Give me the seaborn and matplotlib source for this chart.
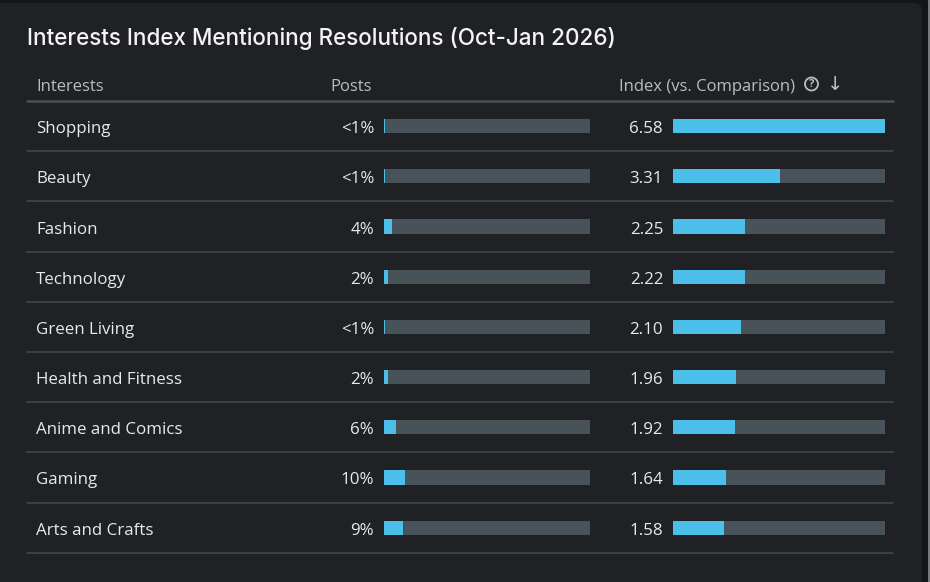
import matplotlib
matplotlib.use('Agg')
import matplotlib.pyplot as plt
from matplotlib.patches import FancyBboxPatch, Circle
import pandas as pd
import seaborn as sns

# ============================================================
# Data
# ============================================================
interests = ['Shopping', 'Beauty', 'Fashion', 'Technology', 'Green Living',
             'Health and Fitness', 'Anime and Comics', 'Gaming', 'Arts and Crafts']
posts_pct = [0.5, 0.5, 4, 2, 0.5, 2, 6, 10, 9]
posts_labels = ['<1%', '<1%', '4%', '2%', '<1%', '2%', '6%', '10%', '9%']
index_vals = [6.58, 3.31, 2.25, 2.22, 2.10, 1.96, 1.92, 1.64, 1.58]

TITLE = 'Interests Index Mentioning Resolutions (Oct-Jan 2026)'
HEADERS = ['Interests', 'Posts', 'Index (vs. Comparison)']

# ============================================================
# Style
# ============================================================
OUTER = '#131517'
PANEL = '#1f2124'
TRACK = '#485259'
BLUE = '#4bbfea'
LINE = '#3a3f43'
HEAD_TXT = '#b9bdc1'
ROW_TXT = '#e8e9ea'

sns.set_style('dark')
plt.rcParams['font.family'] = ['Open Sans', 'DejaVu Sans']

W, H = 930, 582
fig = plt.figure(figsize=(W / 100, H / 100), dpi=100, facecolor=OUTER)

# background axes in pixel coordinates
bg = fig.add_axes([0, 0, 1, 1])
bg.set_xlim(0, W)
bg.set_ylim(H, 0)
bg.axis('off')
bg.add_patch(FancyBboxPatch((-20, 3), 942, 600, boxstyle='round,pad=0,rounding_size=8',
                            facecolor=PANEL, edgecolor='none'))
bg.plot([928.5, 928.5], [0, H], color='#8a8d90', lw=1.2)

bg.text(27, 38, TITLE, color='#f4f4f4', fontsize=16.2, fontweight='medium',
        family=['Inter', 'DejaVu Sans'], va='center', ha='left')

HEAD_Y = 85
bg.text(36, HEAD_Y, HEADERS[0], color=HEAD_TXT, fontsize=12, va='center_baseline')
bg.text(330, HEAD_Y, HEADERS[1], color=HEAD_TXT, fontsize=12, va='center_baseline')
bg.text(619, HEAD_Y, HEADERS[2], color=HEAD_TXT, fontsize=12, va='center_baseline')
bg.add_patch(Circle((811.5, 84), 6.5, facecolor='none', edgecolor=HEAD_TXT, lw=1.3))
bg.text(811.5, 84.5, '?', color=HEAD_TXT, fontsize=8, fontweight='bold', ha='center', va='center')
bg.text(835, 84, '\u2193', color=HEAD_TXT, fontsize=14, ha='center', va='center',
        family=['DejaVu Sans'])

ROW_TOP, ROW_H = 101, 50.2
bg.plot([27, 893], [ROW_TOP, ROW_TOP], color='#4a5055', lw=1.8)
for i, (name, plab, ival) in enumerate(zip(interests, posts_labels, index_vals)):
    yc = ROW_TOP + ROW_H * (i + 0.5) + 1
    bg.text(36, yc, name, color=ROW_TXT, fontsize=12.2, va='center_baseline')
    bg.text(374, yc, plab, color=ROW_TXT, fontsize=12.2, va='center_baseline', ha='right')
    bg.text(663, yc, f'{ival:.2f}', color=ROW_TXT, fontsize=12.2, va='center_baseline', ha='right')
    bg.plot([27, 893], [ROW_TOP + ROW_H * (i + 1)] * 2, color=LINE, lw=1.5)

# ============================================================
# Bar axes
# ============================================================
df = pd.DataFrame({'interest': interests, 'posts': posts_pct, 'index': index_vals})
df['posts_max'] = 100.0
df['index_max'] = max(index_vals)

ax_bottom = 1 - (ROW_TOP + ROW_H * len(interests)) / H
ax_height = ROW_H * len(interests) / H


def bar_axes(left_px, width_px, col, max_col):
    ax = fig.add_axes([left_px / W, ax_bottom, width_px / W, ax_height])
    ax.patch.set_alpha(0)
    sns.barplot(data=df, y='interest', x=max_col, color=TRACK, width=0.28,
                saturation=1, orient='h', linewidth=0, edgecolor='none', ax=ax)
    sns.barplot(data=df, y='interest', x=col, color=BLUE, width=0.28,
                saturation=1, orient='h', linewidth=0, edgecolor='none', ax=ax)
    ax.set_xlim(0, df[max_col].iloc[0])
    ax.set_ylim(len(interests) - 0.5, -0.5)
    ax.axis('off')
    return ax


bar_axes(384, 206, 'posts', 'posts_max')
bar_axes(673, 212, 'index', 'index_max')

fig.savefig('out.png', dpi=100, facecolor=OUTER)
